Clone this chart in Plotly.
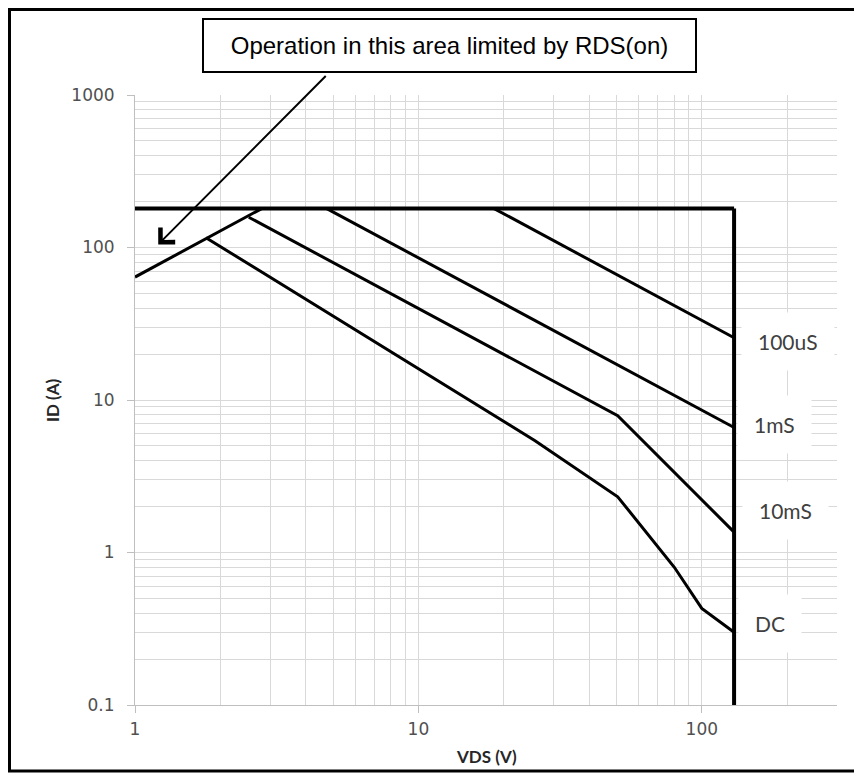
import plotly.graph_objects as go

# ---- data (VDS in V, ID in A) ----
vds_max = 130
id_max = 180

rds_vds = [1, 2.8]
rds_id = [64, 180]

limit_h_vds = [1, vds_max]
limit_h_id = [id_max, id_max]
limit_v_vds = [vds_max, vds_max]
limit_v_id = [id_max, 0.1]

us100_vds = [18.5, 130]
us100_id = [180, 25.6]

ms1_vds = [4.75, 130]
ms1_id = [180, 6.6]

ms10_vds = [2.52, 50.5, 130]
ms10_id = [158, 7.9, 1.36]

dc_vds = [1.78, 25.8, 50.5, 80, 100, 130]
dc_id = [116, 5.4, 2.32, 0.8, 0.43, 0.30]

x_ticks = [1, 10, 100]
x_ticktext = ["1", "10", "100"]
y_ticks = [0.1, 1, 10, 100, 1000]
y_ticktext = ["0.1", "1", "10", "100", "1000"]
x_minor = [d * 10 ** e for e in range(0, 3) for d in range(2, 10) if d * 10 ** e <= 300]
y_minor = [d * 10.0 ** e for e in range(-1, 3) for d in range(2, 10)]

curve_labels = ["100uS", "1mS", "10mS", "DC"]

# page has an 8px body margin: the figure is drawn 8px smaller and offset
OFF = 8
W, H = 862 - OFF, 774 - OFF
L, R, T, B = 135 - OFF, 33 - OFF, 95 - OFF, 77 - OFF
pw, ph = W - L - R, H - T - B


def px_x(px):
    return (px - OFF - L) / pw


def px_y(py):
    return (H - B - (py - OFF)) / ph


fig = go.Figure()

line_sets = [
    (limit_h_vds, limit_h_id, 4),
    (limit_v_vds, limit_v_id, 4),
    (rds_vds, rds_id, 3),
    (us100_vds, us100_id, 3),
    (ms1_vds, ms1_id, 3),
    (ms10_vds, ms10_id, 3),
    (dc_vds, dc_id, 3),
]
for xs, ys, w in line_sets:
    fig.add_trace(go.Scatter(x=xs, y=ys, mode="lines",
                             line=dict(color="black", width=w),
                             showlegend=False, hoverinfo="skip"))

grid = "#d9d9d9"
axis_common = dict(
    type="log",
    showline=True, linecolor="#bfbfbf", linewidth=1,
    ticks="outside", ticklen=7, tickcolor="#bfbfbf",
    showgrid=True, gridcolor=grid, gridwidth=1,
    zeroline=False,
    tickfont=dict(family="DejaVu Sans", size=17, color="#505050"),
)

fig.update_xaxes(range=[0, 2.4771], tickmode="array", tickvals=x_ticks,
                 ticktext=x_ticktext, ticklabelstandoff=2,
                 minor=dict(tickvals=x_minor, showgrid=True, gridcolor=grid,
                            gridwidth=1, ticks=""),
                 **axis_common)
fig.update_yaxes(range=[-1, 3], tickmode="array", tickvals=y_ticks,
                 ticktext=y_ticktext, ticklabelstandoff=9,
                 minor=dict(tickvals=y_minor, showgrid=True, gridcolor=grid,
                            gridwidth=1, ticks=""),
                 **axis_common)

annotations = []
# curve labels on white boxes
label_pos = [(788, 341), (774, 424), (785, 510), (770, 623)]
for txt, (lx, ly) in zip(curve_labels, label_pos):
    annotations.append(dict(
        text=txt, xref="paper", yref="paper", x=px_x(lx), y=px_y(ly),
        xanchor="center", yanchor="middle", showarrow=False,
        bgcolor="white", borderpad=16,
        font=dict(family="Lato", size=21, color="#404040")))

# axis titles
annotations.append(dict(text="<b>ID (A)</b>", xref="paper", yref="paper",
                        x=px_x(52), y=0.5, textangle=-90, showarrow=False,
                        xanchor="center", yanchor="middle",
                        font=dict(family="Lato", size=17, color="#262626")))
annotations.append(dict(text="<b>VDS (V)</b>", xref="paper", yref="paper",
                        x=0.5, y=px_y(756), showarrow=False,
                        xanchor="center", yanchor="middle",
                        font=dict(family="Lato", size=17, color="#262626")))

# call-out box
annotations.append(dict(text="Operation in this area limited by RDS(on)",
                        xref="paper", yref="paper",
                        x=px_x(449.5), y=px_y(45.5),
                        xanchor="center", yanchor="middle", showarrow=False,
                        width=491, height=51, bgcolor="white",
                        bordercolor="black", borderwidth=2, borderpad=0,
                        font=dict(family="Liberation Sans Narrow, Liberation Sans",
                                  size=24, color="black")))
# arrow pointing into the RDS(on) limited region
annotations.append(dict(text="", x=0.082, y=2.02, xref="x", yref="y",
                        showarrow=True, ax=169, ay=-170, axref="pixel", ayref="pixel",
                        arrowhead=4, arrowsize=2, arrowwidth=2, arrowcolor="black"))

fig.update_layout(
    width=W, height=H,
    margin=dict(l=L, r=R, t=T, b=B),
    paper_bgcolor="white", plot_bgcolor="white",
    annotations=annotations,
    shapes=[dict(type="rect", xref="paper", yref="paper",
                 x0=px_x(9.5), x1=px_x(856), y0=px_y(771), y1=px_y(9.5),
                 line=dict(color="black", width=3), layer="above")],
)

fig.write_html("out.html")
